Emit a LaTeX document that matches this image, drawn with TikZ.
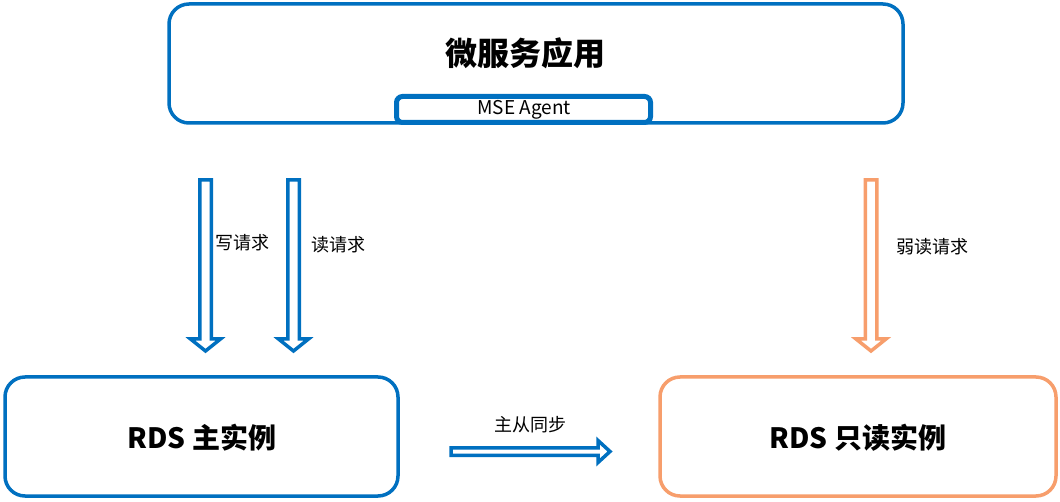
\documentclass[tikz,border=0pt]{standalone}
\usepackage{fontspec}
\setmainfont{Noto Sans CJK SC}
\usetikzlibrary{calc}
\definecolor{mblue}{RGB}{0,112,192}
\definecolor{morange}{RGB}{247,158,108}
\newcommand\vblockarrow[3]{%
  \draw[#3, line width=3.5pt, line join=miter, fill=white]
    let \p1=(#1), \p2=(#2) in
    (\x1-5.75pt,\y1) -- (\x1+5.75pt,\y1) -- (\x1+5.75pt,\y2+12pt) -- (\x1+15pt,\y2+12pt)
    -- (\x1,\y2) -- (\x1-15pt,\y2+12pt) -- (\x1-5.75pt,\y2+12pt) -- cycle;}
\newcommand\hblockarrow[3]{%
  \draw[#3, line width=3.5pt, line join=miter, fill=white]
    let \p1=(#1), \p2=(#2) in
    (\x1,\y1-3.75pt) -- (\x1,\y1+3.75pt) -- (\x2-12pt,\y1+3.75pt) -- (\x2-12pt,\y1+11pt)
    -- (\x2,\y1) -- (\x2-12pt,\y1-11pt) -- (\x2-12pt,\y1-3.75pt) -- cycle;}
\tikzset{
  bigbox/.style={draw, line width=3.5pt, rounded corners=20pt, fill=white},
  agentbox/.style={draw=mblue, line width=5pt, rounded corners=6pt, fill=white},
  lbl/.style={font=\fontsize{18}{21}\selectfont, inner sep=0pt},
}
\begin{document}
\begin{tikzpicture}[x=1pt,y=-1pt]
\fill[white] (0,0) rectangle (1060,502);
\useasboundingbox (0,0) rectangle (1060,502);
% boxes
\draw[bigbox, draw=mblue] (169,4) rectangle (903,123);
\node[font=\fontsize{32}{35}\selectfont\bfseries, inner sep=0pt] (app) at (525,53) {微服务应用};
\draw[agentbox] (396.5,96.5) rectangle (650.5,122.5);
\node[font=\fontsize{19}{22}\selectfont, inner sep=0pt] (agent) at (524,110) {MSE Agent};
\draw[bigbox, draw=mblue] (5,377) rectangle (398,496);
\node[font=\fontsize{28}{31}\selectfont\bfseries, inner sep=0pt] (master) at (202,438) {RDS 主实例};
\draw[bigbox, draw=morange] (660,377) rectangle (1056,496);
\node[font=\fontsize{28}{31}\selectfont\bfseries, inner sep=0pt] (ro) at (858,438) {RDS 只读实例};
% arrow endpoints
\coordinate (w1) at (205.5,180);
\coordinate (w2) at (205.5,351);
\coordinate (r1) at (293.5,180);
\coordinate (r2) at (293.5,351);
\coordinate (o1) at (871,180);
\coordinate (o2) at (871,351);
\coordinate (s1) at (451,451.5);
\coordinate (s2) at (610,451.5);
\vblockarrow{w1}{w2}{mblue}
\vblockarrow{r1}{r2}{mblue}
\vblockarrow{o1}{o2}{morange}
\hblockarrow{s1}{s2}{mblue}
% labels
\node[lbl] (lw) at (242,243) {写请求};
\node[lbl] (lr) at (338,245) {读请求};
\node[lbl] (lo) at (932,247) {弱读请求};
\node[lbl] (ls) at (530,425) {主从同步};
\end{tikzpicture}
\end{document}
